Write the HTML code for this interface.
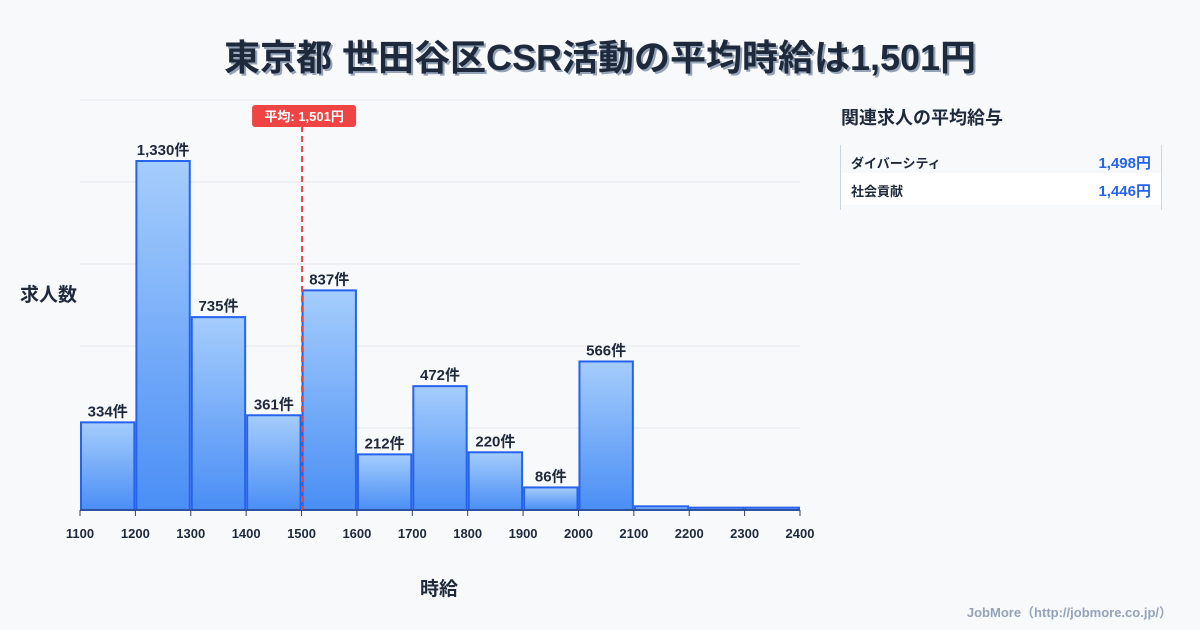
<!DOCTYPE html>
<html><head><meta charset="utf-8"><style>
body{margin:0;width:1200px;height:630px;background:#f8f9fb;font-family:"Liberation Sans","Noto Sans CJK JP",sans-serif;color:#1e293b;overflow:hidden;position:relative}
.t{position:absolute}
</style></head><body>
<div class="t" style="left:0;width:1200px;top:29px;text-align:center;font-size:36px;font-weight:bold;text-shadow:2px 2px 0 #94a3b8;">東京都 世田谷区CSR活動の平均時給は1,501円</div>
<div class="t" style="left:20px;top:280px;font-size:19px;font-weight:bold">求人数</div>
<div class="t" style="left:420px;top:574px;font-size:19px;font-weight:bold">時給</div>
<div class="t" style="left:841px;top:104px;font-size:18px;font-weight:bold">関連求人の平均給与</div>
<div class="t" style="left:840px;top:145px;width:320px;height:65px;border-left:1px solid #cbd5e1;border-right:1px solid #cbd5e1">
<div style="height:32px;line-height:38px;padding:0 10px;font-size:13px;font-weight:bold;display:flex;justify-content:space-between"><span>ダイバーシティ</span><span style="color:#2563eb;font-size:15px">1,498円</span></div>
<div style="height:32px;line-height:38px;padding:0 10px;font-size:13px;font-weight:bold;background:#fff;display:flex;justify-content:space-between;margin-top:-4px"><span>社会貢献</span><span style="color:#2563eb;font-size:15px">1,446円</span></div>
</div>
<div class="t" style="right:28px;top:602px;font-size:13px;font-weight:bold;color:#94a3b8">JobMore（http://jobmore.co.jp/）</div>
<svg id="c" class="t" style="left:0;top:0" width="1200" height="630">
<defs><linearGradient id="g" x1="0" y1="0" x2="0" y2="1"><stop offset="0" stop-color="#a5cdfc"/><stop offset="1" stop-color="#4a8ef5"/></linearGradient></defs>
</svg>
<script>
const bins=[1100,1200,1300,1400,1500,1600,1700,1800,1900,2000,2100,2200,2300];
const counts=[334,1330,735,361,837,212,472,220,86,566,14,9,9];
const ticks=[1100,1200,1300,1400,1500,1600,1700,1800,1900,2000,2100,2200,2300,2400];
const avg=1501;
const svg=document.getElementById('c');const NS='http://www.w3.org/2000/svg';
const x=v=>80+(v-1100)/1300*720;const y=v=>510-v*0.2624;
function mk(t,a){const e=document.createElementNS(NS,t);for(const k in a)e.setAttribute(k,a[k]);svg.appendChild(e);return e;}
for(let i=0;i<6;i++){const g=mk('line',{x1:80,x2:800,y1:100+i*82,y2:100+i*82,stroke:'#e5e7eb'});

}
bins.forEach((b,i)=>{const h=Math.max(2,510-y(counts[i]));
const r=mk('rect',{x:x(b)+1,y:510-h,width:x(b+100)-x(b)-2,height:h,fill:'url(#g)',stroke:'#2563eb','stroke-width':2});


if(counts[i]>50){const t=mk('text',{x:(x(b)+x(b+100))/2,y:y(counts[i])-6,'text-anchor':'middle','font-size':15,'font-weight':'bold',fill:'#1e293b'});t.textContent=counts[i].toLocaleString()+'件';

}
});
mk('line',{x1:80,x2:800,y1:510,y2:510,stroke:'#334155'});
ticks.forEach(v=>{mk('line',{x1:x(v),x2:x(v),y1:510,y2:516,stroke:'#334155'});
const t=mk('text',{x:x(v),y:538,'text-anchor':'middle','font-size':13,'font-weight':'bold',fill:'#1e293b'});t.textContent=v;

});
const ax=x(avg);
const l=mk('line',{x1:ax,x2:ax,y1:126,y2:510,stroke:'#e04848','stroke-width':2,'stroke-dasharray':'6,4'});


const bx=mk('rect',{x:ax-50,y:105,width:104,height:22,rx:3,fill:'#ef4444'});


const at=mk('text',{x:ax+2,y:121,'text-anchor':'middle','font-size':13,'font-weight':'bold',fill:'#fff'});at.textContent='平均: '+avg.toLocaleString()+'円';


</script>
</body></html>
